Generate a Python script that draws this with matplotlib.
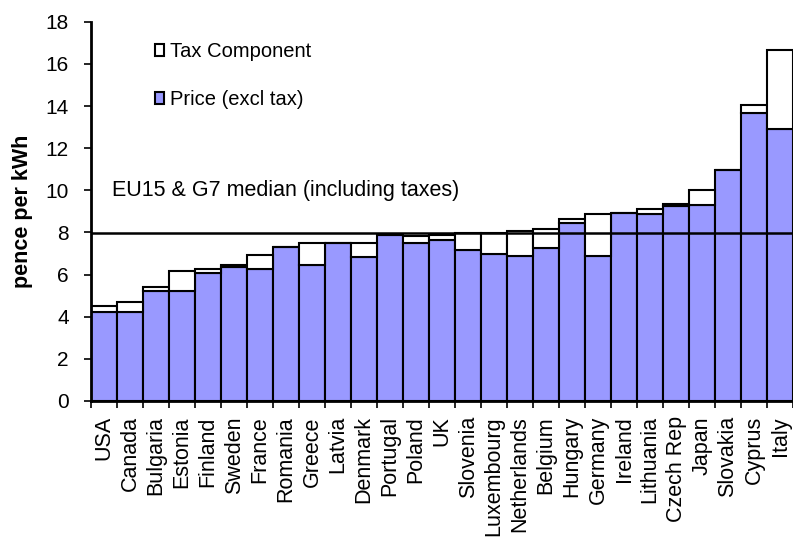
import numpy as np
import matplotlib.pyplot as plt

plt.rcParams['font.family'] = ['Liberation Sans', 'DejaVu Sans']

# ====================== 数据 ======================
countries = ["USA", "Canada", "Bulgaria", "Estonia", "Finland", "Sweden", "France",
             "Romania", "Greece", "Latvia", "Denmark", "Portugal", "Poland", "UK",
             "Slovenia", "Luxembourg", "Netherlands", "Belgium", "Hungary", "Germany",
             "Ireland", "Lithuania", "Czech Rep", "Japan", "Slovakia", "Cyprus", "Italy"]
total = [4.5, 4.7, 5.4, 6.15, 6.25, 6.45, 6.95, 7.3, 7.5, 7.5, 7.5, 7.9, 7.85, 7.86,
         7.98, 7.98, 8.08, 8.17, 8.64, 8.87, 8.94, 9.13, 9.34, 10.0, 10.97, 14.06, 16.67]
price = [4.2, 4.2, 5.2, 5.2, 6.05, 6.35, 6.25, 7.3, 6.45, 7.5, 6.85, 7.9, 7.5, 7.65,
         7.17, 6.98, 6.89, 7.28, 8.47, 6.89, 8.94, 8.87, 9.23, 9.3, 10.97, 13.66, 12.92]
median = 7.95

tax = np.array(total) - np.array(price)
x = np.arange(len(countries))

# ====================== 绘图 ======================
fig = plt.figure(figsize=(7.93, 5.44), dpi=100)
ax = fig.add_axes([0.115, 0.263, 0.885, 0.697])

ax.bar(x, price, width=1.0, color="#9999FF", edgecolor="black", linewidth=1.5,
       label="Price (excl tax)")
ax.bar(x, tax, bottom=price, width=1.0, color="white", edgecolor="black", linewidth=1.5,
       label="Tax Component")
ax.axhline(median, color="black", linewidth=1.8)
ax.text(0.3, 10.0, "EU15 & G7 median (including taxes)", fontsize=15.5, ha="left", va="center")

ax.set_xlim(-0.5, len(countries) - 0.5)
ax.set_ylim(0, 18)
ax.set_yticks(np.arange(0, 19, 2))
ax.tick_params(axis="y", labelsize=15, direction="out", length=5, width=1.2, pad=11)
ax.set_xticks(x)
ax.set_xticklabels(countries, rotation=90, fontsize=15.5)
ax.tick_params(axis="x", length=0, pad=11)
ax.set_xticks(np.arange(-0.5, len(countries), 1), minor=True)
ax.tick_params(axis="x", which="minor", length=5, width=1.2)
ax.set_ylabel("pence per kWh", fontsize=15.5, fontweight="bold", labelpad=9)

for s in ["top", "right"]:
    ax.spines[s].set_visible(False)
for s in ["left", "bottom"]:
    ax.spines[s].set_linewidth(2)

h, l = ax.get_legend_handles_labels()
ax.legend(h[::-1], l[::-1], loc="upper left", bbox_to_anchor=(0.065, 0.995), frameon=False,
          fontsize=14.5, handlelength=0.45, handleheight=0.55, handletextpad=0.3,
          labelspacing=1.45)

plt.savefig("out.png", dpi=100)
plt.close()
